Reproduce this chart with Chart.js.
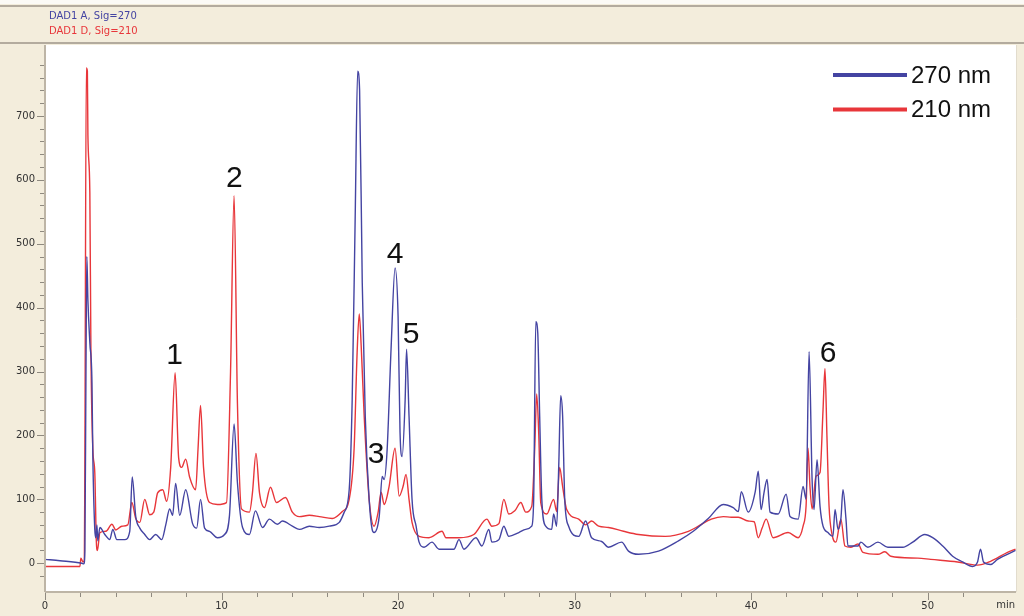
<!DOCTYPE html>
<html>
<head>
<meta charset="utf-8">
<script src="https://cdn.jsdelivr.net/npm/chart.js@4.4.1/dist/chart.umd.min.js"></script>
<style>
html, body { margin: 0; padding: 0; background: #f3eddc; }
canvas { display: block; }
</style>
</head>
<body>
<canvas id="cromatograma" width="1024" height="616"></canvas>
<script>
// ===============================================
// DADOS (lidos do cromatograma)
// ===============================================

// 270 nm (DAD1 A)
const tempo270 = [0, 0.85, 2.09, 2.20, 2.26, 2.32, 2.37, 2.43, 2.54, 2.66, 2.71, 2.82, 2.88, 2.94, 2.99, 3.11, 3.39, 3.67, 3.84, 4.07,
  4.52, 4.80, 4.94, 5.14, 5.37, 5.65, 5.93, 6.27, 6.61, 6.84, 7.06, 7.23, 7.40, 7.63, 7.97, 8.36, 8.59, 8.81, 9.04, 9.32,
  9.77, 10.17, 10.45, 10.71, 10.90, 11.19, 11.58, 11.92, 12.32, 12.71, 13.16, 13.45, 14.01, 14.41, 14.97, 15.54, 16.10, 16.67, 16.95, 17.23,
  17.40, 17.57, 17.71, 17.82, 17.97, 18.14, 18.36, 18.53, 18.64, 18.93, 19.10, 19.21, 19.38, 19.60, 19.83, 20.00, 20.11, 20.23, 20.40, 20.48,
  20.62, 20.79, 21.02, 21.19, 21.47, 21.92, 22.32, 23.16, 23.45, 23.73, 24.41, 24.75, 25.14, 25.31, 25.71, 25.99, 26.27, 26.84, 27.23, 27.57,
  27.68, 27.80, 27.91, 28.02, 28.14, 28.36, 28.70, 28.81, 28.98, 29.10, 29.21, 29.32, 29.44, 29.66, 30.23, 30.62, 30.96, 31.53, 31.92, 32.66,
  33.05, 33.62, 34.75, 35.88, 36.72, 37.57, 38.42, 38.98, 39.27, 39.44, 39.83, 40.23, 40.40, 40.56, 40.73, 40.90, 41.07, 41.53, 41.98, 42.20,
  42.66, 42.94, 43.11, 43.28, 43.45, 43.56, 43.73, 43.90, 44.07, 44.35, 44.63, 44.75, 44.92, 45.08, 45.20, 45.37, 45.48, 46.05, 46.21, 46.61,
  47.18, 47.74, 48.59, 49.15, 49.83, 50.28, 50.85, 51.41, 51.98, 52.54, 52.82, 52.99, 53.16, 53.56, 53.95, 54.97];
const sinal270 = [6, 4, 0, -1, 20, 300, 480, 412, 345, 283, 167, 53, 40, 60, 35, 56, 45, 37, 53, 37,
  37, 50, 135, 73, 55, 45, 37, 45, 37, 60, 85, 75, 125, 75, 115, 62, 55, 100, 55, 50,
  40, 45, 75, 218, 126, 56, 45, 82, 56, 69, 61, 66, 58, 53, 58, 56, 58, 64, 80, 115,
  256, 542, 770, 740, 439, 230, 100, 53, 48, 73, 136, 131, 178, 334, 462, 386, 205, 167, 256, 335,
  230, 100, 58, 33, 25, 33, 22, 22, 37, 22, 40, 27, 53, 33, 37, 58, 42, 48, 53, 58,
  100, 378, 361, 230, 100, 58, 53, 77, 58, 152, 262, 230, 100, 58, 42, 66, 40, 34, 25, 33,
  19, 14, 19, 35, 50, 70, 92, 87, 81, 112, 80, 112, 144, 84, 111, 131, 80, 77, 108, 73,
  69, 120, 100, 331, 131, 84, 162, 89, 58, 48, 42, 84, 53, 69, 115, 69, 27, 27, 33, 25,
  33, 25, 25, 33, 45, 40, 27, 11, 2, -5, 2, 22, 2, -2, 6, 20];

// 210 nm (DAD1 D)
const tempo210 = [0, 1.98, 2.03, 2.15, 2.23, 2.26, 2.34, 2.40, 2.43, 2.54, 2.60, 2.71, 2.82, 2.91, 2.97, 3.11, 3.45, 3.79, 4.01, 4.35,
  4.69, 4.92, 5.14, 5.37, 5.65, 5.93, 6.16, 6.38, 6.67, 6.89, 7.12, 7.37, 7.57, 7.74, 7.97, 8.19, 8.53, 8.67, 8.81, 8.98,
  9.32, 9.77, 10.28, 10.51, 10.71, 10.90, 11.13, 11.58, 11.75, 11.95, 12.15, 12.43, 12.77, 13.11, 13.62, 14.01, 14.41, 14.97, 15.54, 16.27,
  16.84, 17.23, 17.51, 17.68, 17.80, 17.91, 18.08, 18.36, 18.64, 18.87, 19.04, 19.21, 19.49, 19.83, 20.06, 20.28, 20.45, 20.62, 20.79, 21.19,
  21.75, 22.49, 22.71, 23.45, 24.29, 25.03, 25.31, 25.71, 25.99, 26.27, 26.61, 26.95, 27.23, 27.57, 27.74, 27.85, 27.97, 28.08, 28.42, 28.81,
  28.98, 29.15, 29.32, 29.55, 30.23, 30.62, 30.96, 31.36, 31.92, 32.77, 33.62, 35.14, 36.44, 37.01, 37.74, 38.42, 38.87, 39.27, 39.83, 40.17,
  40.40, 40.62, 40.85, 41.24, 42.09, 42.66, 42.94, 43.11, 43.22, 43.33, 43.45, 43.67, 43.90, 44.07, 44.18, 44.29, 44.41, 44.58, 44.80, 45.08,
  45.31, 45.65, 46.05, 46.33, 47.18, 47.57, 47.91, 49.44, 50.17, 51.69, 52.82, 53.56, 54.52, 54.97];
const sinal210 = [-5, -5, 8, 2, 5, 170, 775, 770, 670, 580, 334, 178, 142, 33, 20, 48, 50, 61, 52, 58,
  60, 95, 70, 64, 100, 76, 80, 110, 115, 97, 150, 298, 165, 150, 163, 135, 115, 180, 247, 150,
  95, 92, 95, 300, 575, 250, 85, 80, 110, 172, 110, 87, 119, 95, 103, 80, 73, 75, 73, 70,
  81, 100, 180, 330, 390, 340, 230, 100, 58, 80, 111, 92, 120, 180, 105, 120, 139, 100, 64, 42,
  40, 50, 40, 40, 45, 69, 58, 62, 100, 77, 82, 95, 80, 89, 180, 265, 200, 95, 77, 100,
  81, 150, 120, 84, 69, 60, 66, 58, 56, 50, 45, 42, 50, 58, 69, 73, 72, 72, 66, 65,
  40, 55, 69, 40, 48, 40, 58, 90, 180, 120, 85, 136, 142, 240, 305, 200, 90, 45, 33, 69,
  27, 25, 30, 17, 14, 18, 11, 8, 6, 2, -3, 3, 17, 22];

// Picos numerados: rótulo, tempo (min) e altura do rótulo (unidades do eixo)
const picosRotulo = ['1', '2', '3', '4', '5', '6'];
const picosTempo = [7.34, 10.73, 18.76, 19.83, 20.73, 44.35];
const picosAltura = [324, 602, 170, 483, 358, 328];

const cabecalhoTextos = ['DAD1 A, Sig=270', 'DAD1 D, Sig=210'];
const legendaTextos = ['270 nm', '210 nm'];
const rotulosY = [0, 100, 200, 300, 400, 500, 600, 700];
const rotuloTopoY = 'Norm.';
const rotuloEixoX = 'min';

const COR_270 = '#4444a2';
const COR_210 = '#e8363a';
const FUNDO = '#f3eddc';

// ===============================================
// PLUGIN: moldura, eixos, legenda e rótulos dos picos
// ===============================================
const moldura = {
  id: 'moldura',
  beforeDraw(chart) {
    const { ctx, chartArea: a } = chart;
    ctx.save();
    ctx.fillStyle = FUNDO;
    ctx.fillRect(0, 0, chart.width, chart.height);
    ctx.fillStyle = '#ffffff';
    ctx.fillRect(a.left, a.top, a.right - a.left, a.bottom - a.top);
    // faixa do cabeçalho
    ctx.fillStyle = '#fbfaf6';
    ctx.fillRect(0, 0, chart.width, 4);
    ctx.strokeStyle = '#b3ab9e';
    ctx.lineWidth = 2;
    ctx.beginPath();
    ctx.moveTo(0, 6); ctx.lineTo(chart.width, 6);
    ctx.moveTo(0, 43); ctx.lineTo(chart.width, 43);
    ctx.stroke();
    ctx.font = '10px "DejaVu Sans"';
    ctx.textBaseline = 'middle';
    ctx.textAlign = 'left';
    ctx.fillStyle = COR_270;
    ctx.fillText(cabecalhoTextos[0], 49, 16);
    ctx.fillStyle = COR_210;
    ctx.fillText(cabecalhoTextos[1], 49, 31);
    ctx.restore();
  },
  afterDraw(chart) {
    const { ctx, chartArea: a, scales: { x, y } } = chart;
    ctx.save();
    // linhas dos eixos
    ctx.strokeStyle = '#bdb5a6';
    ctx.lineWidth = 2;
    ctx.beginPath();
    ctx.moveTo(a.left, a.top); ctx.lineTo(a.left, a.bottom);
    ctx.moveTo(a.left, a.bottom); ctx.lineTo(a.right, a.bottom);
    ctx.stroke();
    ctx.strokeStyle = '#e2dccd';
    ctx.lineWidth = 1;
    ctx.beginPath();
    ctx.moveTo(a.right + 0.5, a.top); ctx.lineTo(a.right + 0.5, a.bottom);
    ctx.stroke();
    // marcas dos eixos
    ctx.strokeStyle = '#8f8a80';
    ctx.lineWidth = 1;
    ctx.beginPath();
    y.ticks.forEach(t => {
      if (t.value % 20 !== 0) return;
      const py = Math.round(y.getPixelForValue(t.value)) + 0.5;
      const len = t.value % 100 === 0 ? 7 : 4;
      ctx.moveTo(a.left - 1 - len, py); ctx.lineTo(a.left - 1, py);
    });
    x.ticks.forEach(t => {
      if (t.value % 2 !== 0) return;
      const px = Math.round(x.getPixelForValue(t.value)) + 0.5;
      const len = t.value % 10 === 0 ? 7 : 4;
      ctx.moveTo(px, a.bottom + 1); ctx.lineTo(px, a.bottom + 1 + len);
    });
    ctx.stroke();
    ctx.fillStyle = '#333333';
    ctx.font = '10px "DejaVu Sans"';
    ctx.textAlign = 'right';
    ctx.textBaseline = 'middle';
    ctx.fillText(rotuloEixoX, a.right - 1, 605);

    // legenda
    ctx.font = '24px "Liberation Sans", Arial, sans-serif';
    ctx.textAlign = 'left';
    chart.data.datasets.forEach((ds, i) => {
      const ly = 75 + i * 34.5;
      ctx.strokeStyle = ds.borderColor;
      ctx.lineWidth = 4;
      ctx.beginPath();
      ctx.moveTo(833, ly); ctx.lineTo(907, ly);
      ctx.stroke();
      ctx.fillStyle = '#111111';
      ctx.fillText(legendaTextos[i], 911, ly + 1);
    });

    // rótulos dos picos
    ctx.font = '30px "Liberation Sans", Arial, sans-serif';
    ctx.textAlign = 'center';
    ctx.fillStyle = '#111111';
    picosRotulo.forEach((r, i) => {
      ctx.fillText(r, x.getPixelForValue(picosTempo[i]), y.getPixelForValue(picosAltura[i]));
    });
    ctx.restore();
  }
};

// ===============================================
// GRÁFICO (CHART.JS)
// ===============================================
function montarSerie(tempos, sinais) {
  return tempos.map((t, i) => ({ x: t, y: sinais[i] }));
}

function rotuloY(v) {
  if (v === 800) return rotuloTopoY;
  return rotulosY.includes(v) ? String(v) : '';
}

const ctx = document.getElementById('cromatograma').getContext('2d');
new Chart(ctx, {
  type: 'line',
  data: {
    datasets: [
      {
        label: legendaTextos[0],
        data: montarSerie(tempo270, sinal270),
        borderColor: COR_270,
        borderWidth: 1.4,
        pointRadius: 0,
        cubicInterpolationMode: 'monotone',
        fill: false
      },
      {
        label: legendaTextos[1],
        data: montarSerie(tempo210, sinal210),
        borderColor: COR_210,
        borderWidth: 1.4,
        pointRadius: 0,
        cubicInterpolationMode: 'monotone',
        fill: false
      }
    ]
  },
  options: {
    responsive: false,
    animation: false,
    devicePixelRatio: 1,
    layout: { padding: { top: 45, right: 6, left: 0, bottom: 0 } },
    scales: {
      x: {
        type: 'linear',
        min: 0,
        max: 55,
        afterFit(s) { s.height = 24; },
        grid: { display: false, drawTicks: false },
        border: { display: false },
        ticks: {
          stepSize: 2,
          autoSkip: false,
          maxRotation: 0,
          padding: 8,
          color: '#333333',
          font: { family: 'DejaVu Sans', size: 10 },
          callback: v => (v % 10 === 0 ? String(v) : '')
        }
      },
      y: {
        type: 'linear',
        min: -45,
        max: 811,
        afterFit(s) { s.width = 45; },
        grid: { display: false, drawTicks: false },
        border: { display: false },
        ticks: {
          stepSize: 20,
          autoSkip: false,
          padding: 10,
          color: '#333333',
          font: { family: 'DejaVu Sans', size: 10 },
          callback: v => rotuloY(v)
        }
      }
    },
    plugins: {
      legend: { display: false },
      tooltip: { enabled: false }
    }
  },
  plugins: [moldura]
});
</script>
</body>
</html>
